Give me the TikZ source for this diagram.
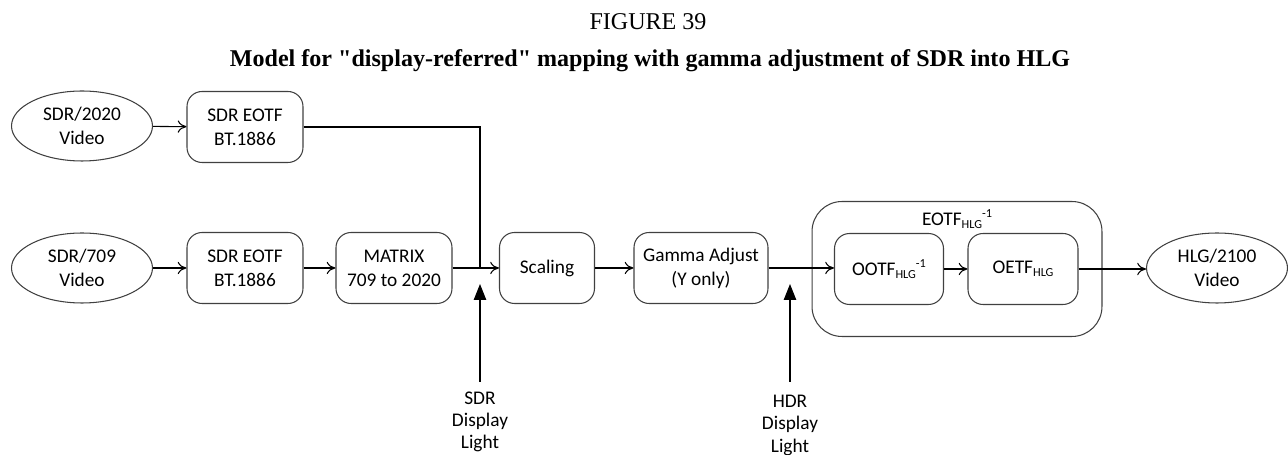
\documentclass[tikz,border=0pt]{standalone}
\usepackage{fontspec}
\setmainfont{Carlito}
\newfontfamily\titlefont{Liberation Serif}
\usetikzlibrary{arrows.meta,positioning,shapes.geometric}
\definecolor{BoxClr}{rgb}{0.25,0.25,0.25}

\newcommand{\hlgsub}{\raisebox{-0.35ex}{\fontsize{7}{8}\selectfont HLG}}
\newcommand{\invsup}{\raisebox{0.9ex}{\fontsize{7}{8}\selectfont -1}}

\tikzset{
  stage/.style={draw=BoxClr,rounded corners=0.3cm,minimum width=2.32cm,
    minimum height=1.42cm,align=center,font=\fontsize{11}{13.6}\selectfont},
  source/.style={draw=BoxClr,ellipse,minimum width=2.82cm,minimum height=1.4cm,
    align=center,font=\fontsize{11}{13.6}\selectfont},
  flow/.style={-{To[length=5pt,width=7pt]},black},
  lightin/.style={-{Triangle[length=9pt,width=7pt]},black},
  lightlbl/.style={align=center,font=\fontsize{11}{12.6}\selectfont}
}

\begin{document}
\begin{tikzpicture}[x=0.02cm,y=-0.02cm,line width=0.6pt]
\useasboundingbox (0,0) rectangle (1288,455);

% titles
\node (fig) at (648,22) {\titlefont\fontsize{13.7}{15}\selectfont FIGURE 39};
\node (cap) at (650,61) {\titlefont\bfseries\fontsize{13.7}{15}\selectfont Model for "display-referred" mapping with gamma adjustment of SDR into HLG};

% upper branch
\node[source] (src2020) at (82,126) {SDR/2020\\Video};
\node[stage] (eotfa) at (245,127) {SDR EOTF\\BT.1886};

% main line
\node[source] (src709) at (82,268) {SDR/709\\Video};
\node[stage] (eotfb) at (245,268) {SDR EOTF\\BT.1886};
\node[stage] (matrix) at (394,268) {MATRIX\\709 to 2020};
\node[stage,minimum width=1.9cm] (scal) at (547,268) {Scaling};
\node[stage,minimum width=2.68cm] (gamma) at (701,268) {Gamma Adjust\\(Y only)};

% inverse EOTF block
\node[draw=BoxClr,rounded corners=0.6cm,minimum width=5.8cm,minimum height=2.7cm] (inveotf) at (957,269) {};
\node[font=\fontsize{11}{13.6}\selectfont] (inveotflbl) at (957,219) {EOTF\hlgsub\invsup};
\node[stage,minimum width=2.18cm] (ootf) at (889,269) {OOTF\hlgsub\invsup};
\node[stage,minimum width=2.2cm] (oetf) at (1023,269) {OETF\hlgsub};
\node[source] (hlg) at (1217,268) {HLG/2100\\Video};

\coordinate (join) at (480,268);
\coordinate (sdrfoot) at (480,382);
\coordinate (sdrtip) at (480,284);
\coordinate (hdrfoot) at (790,382);
\coordinate (hdrtip) at (790,284);

\node[lightlbl,below=2pt of sdrfoot] (sdrlbl) {SDR\\Display\\Light};
\node[lightlbl,below=4pt of hdrfoot] (hdrlbl) {HDR\\Display\\Light};

% connectors
\draw[flow] (src2020) -- (eotfa);
\draw (eotfa.east) -| (join);
\draw[flow] (src709) -- (eotfb);
\draw[flow] (eotfb) -- (matrix);
\draw[flow] (matrix) -- (scal);
\draw[flow] (scal) -- (gamma);
\draw[flow] (gamma.east) -- (ootf.west |- gamma.east);
\draw[flow] (ootf) -- (oetf);
\draw[flow] (oetf.east) -- (hlg.west |- oetf.east);
\draw[lightin] (sdrfoot) -- (sdrtip);
\draw[lightin] (hdrfoot) -- (hdrtip);

\end{tikzpicture}
\end{document}
